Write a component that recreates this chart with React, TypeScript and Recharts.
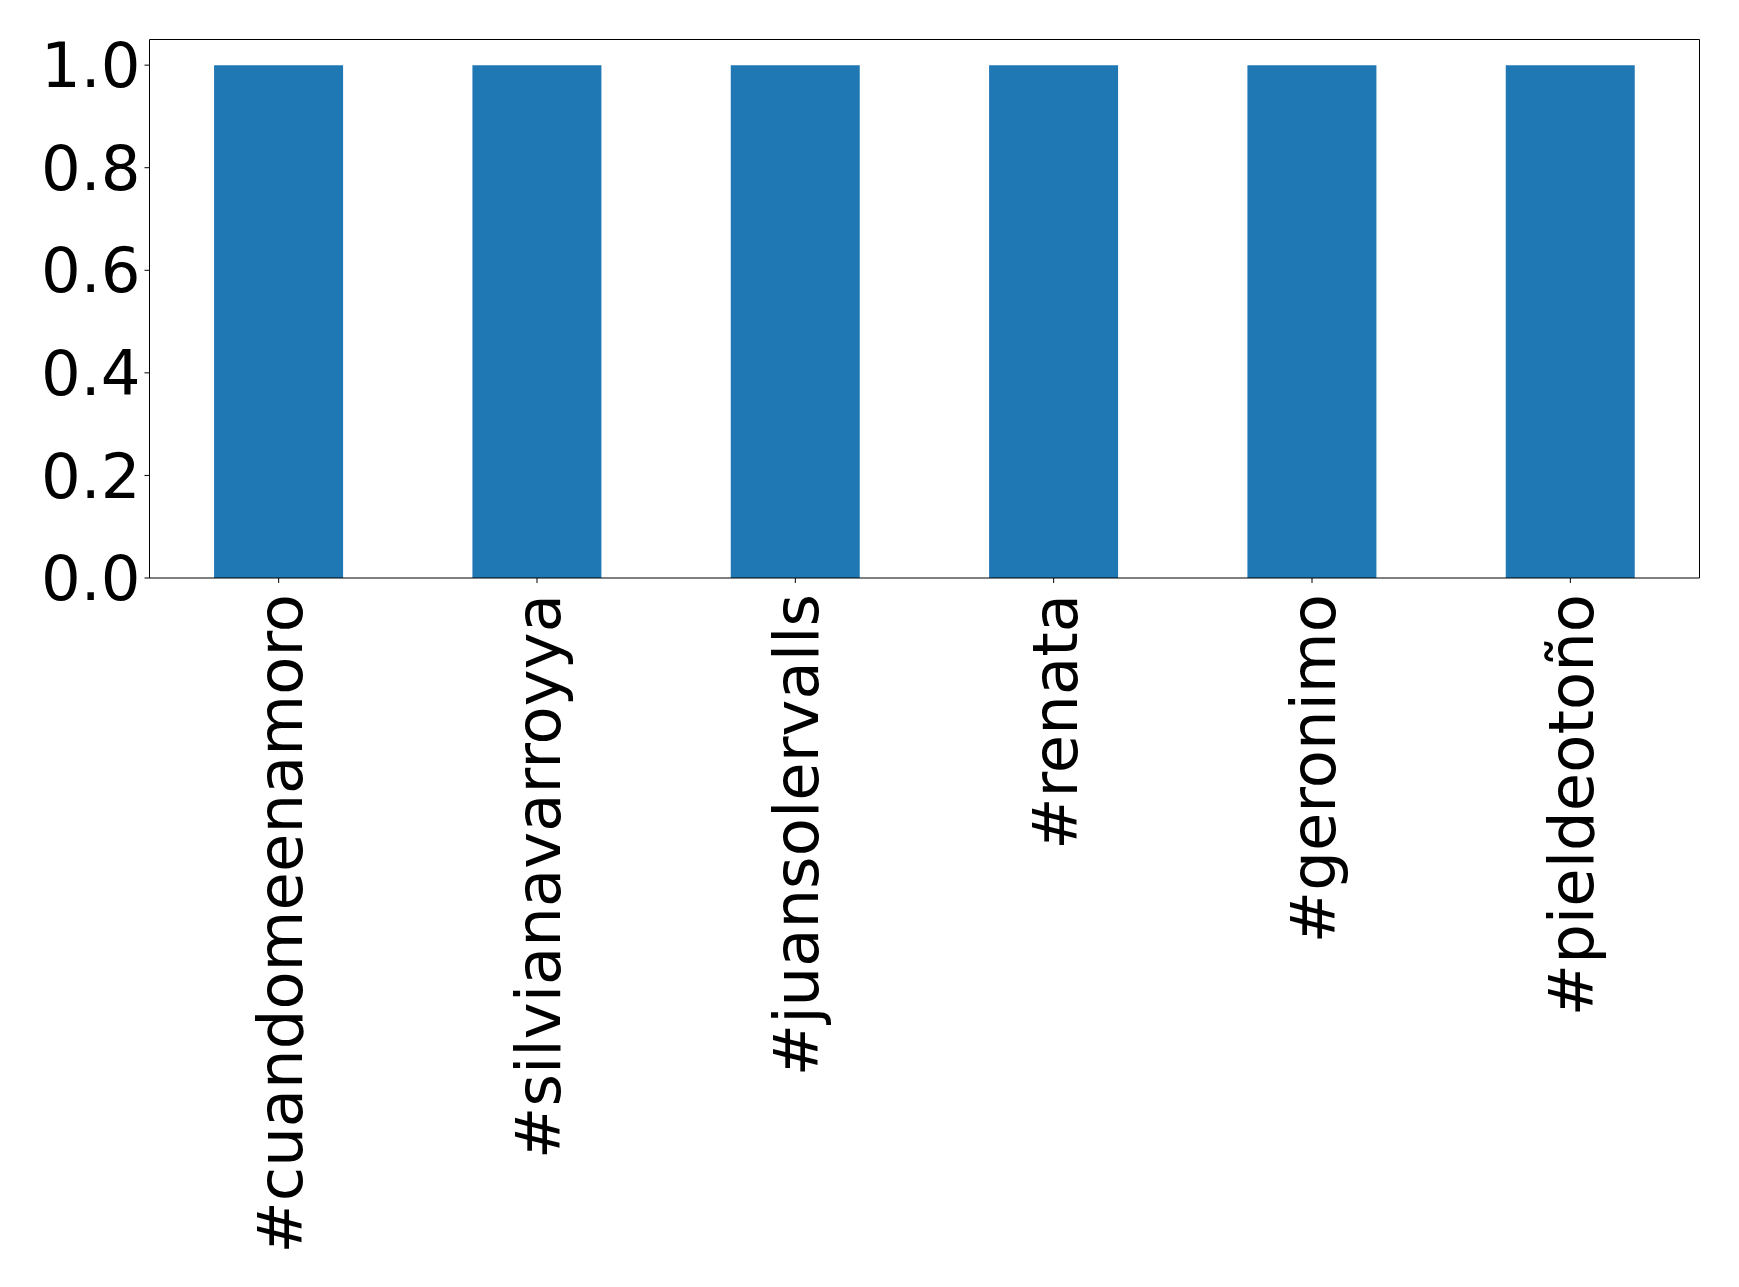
import { BarChart, Bar, XAxis, YAxis, Cell } from 'recharts';

// hashtag categories and their counts
const HASHTAGS = [
    '#cuandomeenamoro',
    '#silvianavarroyya',
    '#juansolervalls',
    '#renata',
    '#geronimo',
    '#pieldeotoño',
];
const COUNTS = [1, 1, 1, 1, 1, 1];
const Y_TICKS = [0, 0.2, 0.4, 0.6, 0.8, 1.0];

const BAR_COLOR = '#1f77b4';
const FONT = '"DejaVu Sans", sans-serif';
const FONT_SIZE = 62.5;

const data = HASHTAGS.map((name, i) => ({ name, value: COUNTS[i] }));

// rotated category label, end of text sits next to the axis
const RotatedTick = (props: { x?: number; y?: number; payload?: { value: string } }) => {
    const { x = 0, y = 0, payload } = props;
    return (
        <text
            x={x}
            y={y}
            dy={23}
            transform={`rotate(-90, ${x}, ${y})`}
            textAnchor="end"
            fill="#000"
            fontSize={FONT_SIZE}
            fontFamily={FONT}
        >
            {payload?.value}
        </text>
    );
};

export default function App() {
    return (
        <div style={{ position: 'absolute', left: 0, top: 0, width: 1739, height: 1287, background: '#fff' }}>
            <BarChart
                width={1739}
                height={1287}
                data={data}
                margin={{ top: 38.5, right: 38.5, left: 0.5, bottom: 9 }}
                barCategoryGap="25%"
            >
                <XAxis
                    dataKey="name"
                    interval={0}
                    height={700}
                    tick={<RotatedTick />}
                    tickSize={5}
                    tickMargin={11}
                    axisLine={{ stroke: '#000' }}
                    tickLine={{ stroke: '#000' }}
                />
                {/* frame: top edge */}
                <XAxis
                    xAxisId="top"
                    orientation="top"
                    dataKey="name"
                    height={1}
                    tick={false}
                    tickLine={false}
                    axisLine={{ stroke: '#000' }}
                />
                <YAxis
                    domain={[0, 1.05]}
                    ticks={Y_TICKS}
                    width={149}
                    tickFormatter={(v: number) => v.toFixed(1)}
                    tickSize={5}
                    tickMargin={4}
                    tick={{ fill: '#000', fontSize: FONT_SIZE, fontFamily: FONT }}
                    axisLine={{ stroke: '#000' }}
                    tickLine={{ stroke: '#000' }}
                />
                {/* frame: right edge */}
                <YAxis
                    yAxisId="right"
                    orientation="right"
                    width={1}
                    domain={[0, 1.05]}
                    tick={false}
                    tickLine={false}
                    axisLine={{ stroke: '#000' }}
                />
                <Bar dataKey="value" fill={BAR_COLOR} isAnimationActive={false}>
                    {data.map((d) => (
                        <Cell key={d.name} fill={BAR_COLOR} />
                    ))}
                </Bar>
            </BarChart>
        </div>
    );
}
